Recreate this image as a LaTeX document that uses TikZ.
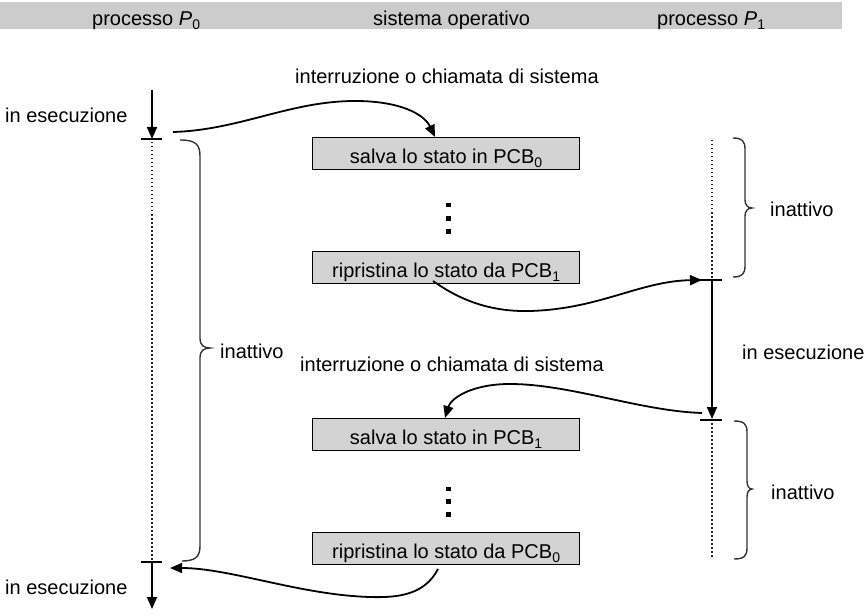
\documentclass[tikz,border=0pt]{standalone}
\usepackage{fontspec}
\setmainfont{Liberation Sans}
\usetikzlibrary{arrows.meta}
\newcommand{\lowsub}[1]{\raisebox{-4bp}{\fontsize{14bp}{14bp}\selectfont #1}}
\definecolor{hdrgray}{HTML}{CCCCCC}
\definecolor{boxgray}{HTML}{D3D3D3}
\definecolor{bracegray}{HTML}{333333}
\definecolor{dotgray}{HTML}{222222}
\begin{document}
\begin{tikzpicture}[x=1bp,y=-1bp,
  every node/.style={font=\fontsize{20bp}{24bp}\selectfont, inner sep=0pt, text=black},
  lbl/.style={anchor=base west},
  hdr/.style={anchor=base west},
  opbox/.style={draw=black, line width=1.2bp, fill=boxgray, minimum width=267bp, minimum height=32bp, anchor=north west, text height=22bp, text depth=2bp},
  flow/.style={line width=1.8bp, -{Triangle[length=12bp,width=10bp]}},
  tick/.style={line width=2bp},
  idle/.style={line width=1.2bp, dotgray, dash pattern=on 1.5bp off 2.5bp},
  bracestyle/.style={line width=1.4bp, bracegray},
  dotmark/.style={fill=black, minimum size=4.5bp, inner sep=0pt}
]
\useasboundingbox (0,0) rectangle (865,616);
% header band
\fill[hdrgray] (0,2) rectangle (842,29);
\node[hdr] (h0) at (92,26) {processo \textit{P}\lowsub{0}};
\node[hdr] (h1) at (373,26) {sistema operativo};
\node[hdr] (h2) at (657,26) {processo \textit{P}\lowsub{1}};

% process P0 timeline
\coordinate (p0s) at (152,90);
\coordinate (p0a) at (152,139);
\coordinate (p0b) at (152,562);
\coordinate (p0e) at (152,609);
\draw[flow] (p0s) -- (p0a);
\draw[tick] (141,139) -- (162,139);
\draw[idle] (152,142) -- (152,560);
\draw[tick] (141,562) -- (162,562);
\draw[flow] (p0b) -- (p0e);
\node[lbl] (ex0) at (5,123) {in esecuzione};
\node[lbl] (ex0b) at (5,594) {in esecuzione};

% process P1 timeline
\coordinate (p1a) at (712,280);
\coordinate (p1b) at (712,419);
\draw[idle] (712,140) -- (712,278);
\draw[tick] (700,280) -- (722,280);
\draw[flow] (p1a) -- (p1b);
\draw[tick] (700,420) -- (722,420);
\draw[idle] (712,423) -- (712,557);
\node[lbl] (ex1) at (742,359) {in esecuzione};

% OS boxes
\node[opbox] (b1) at (312,137) {salva lo stato in PCB\lowsub{0}};
\node[opbox] (b2) at (312,251) {ripristina lo stato da PCB\lowsub{1}};
\node[opbox] (b3) at (312,418) {salva lo stato in PCB\lowsub{1}};
\node[opbox] (b4) at (312,532) {ripristina lo stato da PCB\lowsub{0}};

% vertical ellipses
\node[dotmark] (d1) at (448.5,205) {};
\node[dotmark] (d2) at (448.5,218.5) {};
\node[dotmark] (d3) at (448.5,231.5) {};
\node[dotmark] (d4) at (448.5,489) {};
\node[dotmark] (d5) at (448.5,501.5) {};
\node[dotmark] (d6) at (448.5,514.5) {};

% labels
\node[lbl] (int1) at (295,84) {interruzione o chiamata di sistema};
\node[lbl] (int2) at (300,371) {interruzione o chiamata di sistema};
\node[lbl] (in0) at (220,358) {inattivo};
\node[lbl] (in1) at (770,217) {inattivo};
\node[lbl] (in2) at (771,499) {inattivo};

% braces
\draw[bracestyle] (180,140) .. controls (195,140) and (200,144) .. (200,156)
  -- (200,339) .. controls (200,345) and (204,348) .. (210,348)
  .. controls (204,348) and (200,351) .. (200,357)
  -- (200,546) .. controls (200,557) and (195,561) .. (182,561);
\draw[bracestyle] (733,138) .. controls (742,138) and (745,141) .. (745,149)
  -- (745,200) .. controls (745,205) and (748,208) .. (752,208)
  .. controls (748,208) and (745,211) .. (745,216)
  -- (745,266) .. controls (745,274) and (742,277) .. (733,277);
\draw[bracestyle] (734,421) .. controls (744,421) and (747,424) .. (747,432)
  -- (747,481) .. controls (747,486) and (749,489) .. (752,489)
  .. controls (749,489) and (747,492) .. (747,497)
  -- (747,548) .. controls (747,556) and (744,559) .. (734,559);

% transfer arrows
\coordinate (a1s) at (173,132);
\coordinate (a1e) at (435,137);
\draw[flow] (a1s) .. controls (240,130) and (290,101) .. (355,101)
  .. controls (400,101) and (424,114) .. (a1e);
\coordinate (a2s) at (433,281);
\coordinate (a2e) at (702,280);
\draw[flow] (a2s) .. controls (460,300) and (490,312) .. (530,311)
  .. controls (600,309) and (640,281) .. (a2e);
\coordinate (a3s) at (702,413);
\coordinate (a3e) at (445,418);
\draw[flow] (a3s) .. controls (640,411) and (570,384) .. (510,384)
  .. controls (472,384) and (451,398) .. (a3e);
\coordinate (a4s) at (438,569);
\coordinate (a4e) at (170,568);
\draw[flow] (a4s) .. controls (425,594) and (400,598) .. (370,597)
  .. controls (300,595) and (230,568) .. (a4e);
\end{tikzpicture}
\end{document}
